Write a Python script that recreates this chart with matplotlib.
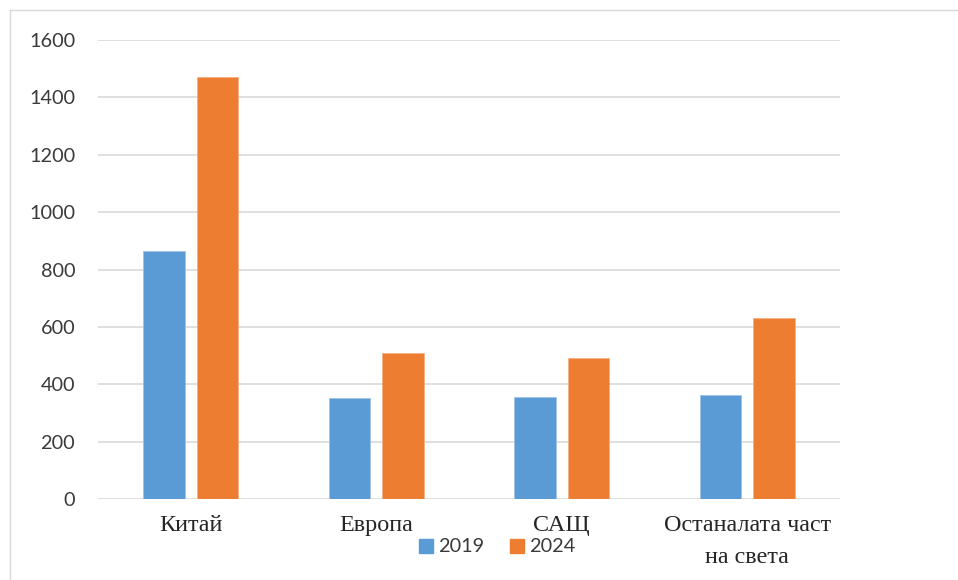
import numpy as np
import matplotlib.pyplot as plt
from matplotlib.lines import Line2D

# ---------- Data ----------
regions = ["Китай", "Европа", "САЩ", "Останалата част\nна света"]
values_2019 = [864, 353, 356, 363]
values_2024 = [1471, 510, 492, 633]
series_labels = ["2019", "2024"]
y_ticks = [0, 200, 400, 600, 800, 1000, 1200, 1400, 1600]

# ---------- Style ----------
blue = "#5B9BD5"
orange = "#ED7D31"
grid_gray = "#D9D9D9"
text_gray = "#3A3A3A"

W, H = 958, 580
fig = plt.figure(figsize=(W / 100, H / 100), dpi=100)
ax = fig.add_axes([98 / W, (H - 499.3) / H, (840 - 98) / W, (499.3 - 40) / H])

x = np.arange(len(regions))
bar_w = 0.225
offset = 0.144

ax.bar(x - offset, values_2019, width=bar_w, color=blue, edgecolor="#9DC3E6",
       linewidth=0.6, label=series_labels[0], zorder=3)
ax.bar(x + offset, values_2024, width=bar_w, color=orange, edgecolor="#F4B183",
       linewidth=0.6, label=series_labels[1], zorder=3)

ax.set_xlim(-0.5, len(regions) - 0.5)
ax.set_ylim(0, 1600)
ax.set_yticks(y_ticks)
ax.set_yticklabels([str(v) for v in y_ticks], fontfamily="Lato",
                   fontsize=14.3, color=text_gray)
ax.set_xticks(x)
ax.set_xticklabels(regions, fontfamily="Liberation Serif", fontsize=17.4,
                   color="#262626", linespacing=1.68)

ax.tick_params(axis="y", length=0, pad=16.5)
ax.tick_params(axis="x", length=0, pad=11.5)
ax.grid(axis="y", color=grid_gray, linewidth=1.2, zorder=0)
for side in ["top", "right", "left", "bottom"]:
    ax.spines[side].set_visible(False)

# legend with square handles, sitting under the axis
handles = [Line2D([0], [0], marker="s", linestyle="none", markersize=9.5,
                  markerfacecolor=c, markeredgecolor=c) for c in (blue, orange)]
leg = fig.legend(handles, series_labels, loc="center",
                 bbox_to_anchor=(497 / W, 1 - 547 / H), ncol=2, frameon=False,
                 handlelength=0.7, handletextpad=0.25, columnspacing=1.3,
                 prop={"family": "Lato", "size": 14.3})
for t in leg.get_texts():
    t.set_color(text_gray)

# thin chart-area frame
fig.add_artist(Line2D([10 / W, 10 / W], [0, 1 - 10 / H], transform=fig.transFigure,
                      color=grid_gray, linewidth=1.0))
fig.add_artist(Line2D([10 / W, 1], [1 - 10 / H, 1 - 10 / H], transform=fig.transFigure,
                      color=grid_gray, linewidth=1.0))

fig.savefig("out.png", dpi=100)
